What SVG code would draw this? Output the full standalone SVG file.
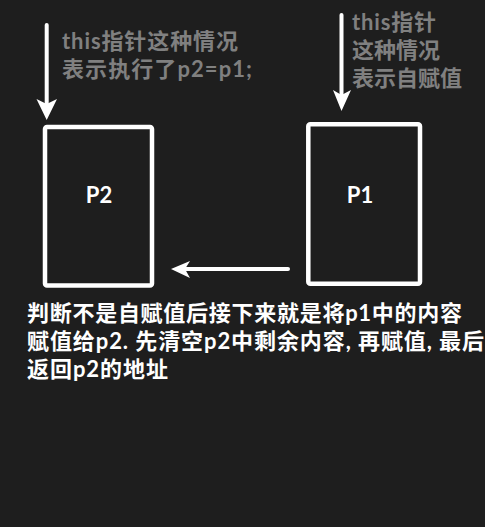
<svg xmlns="http://www.w3.org/2000/svg" width="485" height="527" viewBox="0 0 485 527">
<style>
.bg{fill:#1e1e1e}
.box{fill:none;stroke:#ffffff;stroke-width:4.5}
.lbl{font-family:Lato,"Noto Sans CJK SC",sans-serif;font-weight:bold;font-size:22px;fill:#ffffff}
.note{font-family:Lato,"Noto Sans CJK SC",sans-serif;font-weight:bold;font-size:22px;fill:#808080}
.txt{font-family:Lato,"Noto Sans CJK SC",sans-serif;font-weight:bold;font-size:22px;fill:#ffffff}
.line{stroke:#ffffff;stroke-width:4;stroke-linecap:round;fill:none}
.head{fill:#ffffff}
</style>
<rect class="bg" x="0" y="0" width="485" height="527"/>
<g id="p2">
<rect class="box" x="45" y="127" width="107" height="158.5" rx="2"/>
<text class="lbl" x="99" y="203" text-anchor="middle">P2</text>
</g>
<g id="p1">
<rect class="box" x="308.3" y="124.3" width="111.7" height="159.5" rx="2"/>
<text class="lbl" x="360" y="203" text-anchor="middle">P1</text>
</g>
<g id="connectors">
<line class="line" x1="46.7" y1="25" x2="46.7" y2="106"/>
<path class="head" d="M46.7,120 L36.5,99 L46.7,104 L57,99 Z"/>
<line class="line" x1="341.5" y1="15" x2="341.5" y2="97"/>
<path class="head" d="M341.5,111 L333,90 L341.5,95 L351,90 Z"/>
<line class="line" x1="288" y1="269" x2="182" y2="269"/>
<path class="head" d="M171,269 L190,261 L185,269 L190,278 Z"/>
</g>
<g id="notes">
<text class="note" x="62" y="49" textLength="176">this指针这种情况</text>
<text class="note" x="62" y="77" textLength="190">表示执行了p2=p1;</text>
<text class="note" x="352" y="30" textLength="84">this指针</text>
<text class="note" x="352" y="58">这种情况</text>
<text class="note" x="352" y="86">表示自赋值</text>
</g>
<g id="description">
<text class="txt" x="27" y="321" textLength="435">判断不是自赋值后接下来就是将p1中的内容</text>
<text class="txt" x="27" y="349" textLength="457">赋值给p2. 先清空p2中剩余内容, 再赋值, 最后</text>
<text class="txt" x="27" y="377" textLength="141">返回p2的地址</text>
</g>
</svg>
